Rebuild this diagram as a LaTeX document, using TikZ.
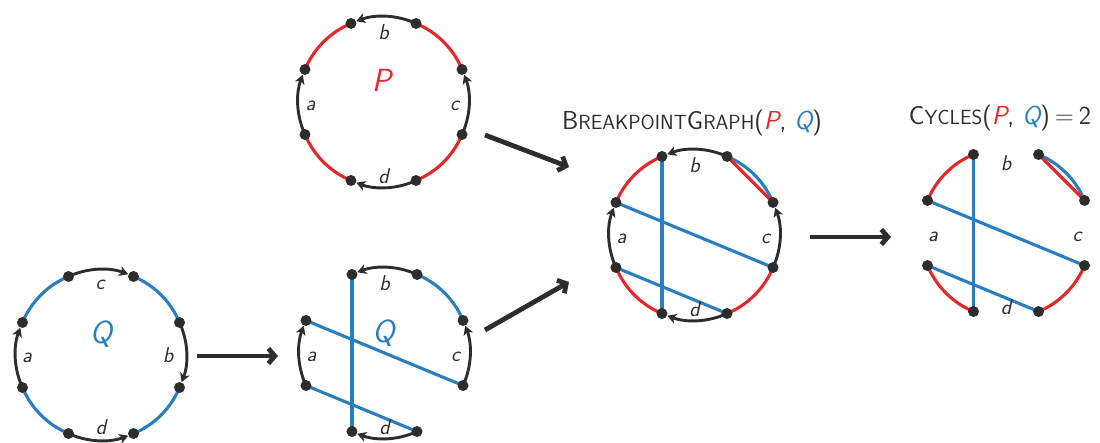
\documentclass[tikz,border=0pt]{standalone}
\usepackage{fontspec}
\usetikzlibrary{arrows.meta,calc}
\definecolor{pred}{RGB}{232,38,42}
\definecolor{qblue}{RGB}{41,125,193}
\definecolor{ink}{RGB}{45,45,45}
\pgfdeclarelayer{bg}
\pgfsetlayers{bg,main}
\newcommand\ringdots[2]{% prefix, centre coordinate name
  \foreach \k in {0,...,7}{\node[dot] (#1\k) at ($(#2)+({22.5+45*\k}:85)$) {};}}
\newcommand\ringlabels[1]{% centre coordinate name
  \node[lab] (#1-a) at ($(#1)+(-73,-4)$) {a};
  \node[lab] (#1-b) at ($(#1)+(0,70)$) {b};
  \node[lab] (#1-c) at ($(#1)+(71,-4)$) {c};
  \node[lab] (#1-d) at ($(#1)+(0,-74)$) {d};}
\newcommand\smc[1]{{\fontsize{20.5}{24}\selectfont #1}}
\begin{document}
\begin{tikzpicture}[x=1pt,y=1pt,
  dot/.style={circle,fill=ink,inner sep=0pt,minimum size=11pt},
  redarc/.style={pred,line width=3.1pt},
  bluearc/.style={qblue,line width=3.1pt},
  dirarc/.style={ink,line width=2.9pt,-{Stealth[length=9pt,width=10pt,inset=2.5pt]}},
  ccw/.style={bend right=22.5,looseness=0.88},
  cw/.style={bend left=22.5,looseness=0.88},
  lab/.style={font=\sffamily\itshape\fontsize{21.5}{21.5}\selectfont,text=ink,inner sep=0pt},
  big/.style={font=\sffamily\itshape\fontsize{32}{32}\selectfont,inner sep=0pt},
  bigarrow/.style={ink,line width=4.8pt,-{Straight Barb[length=6.5pt,width=15pt]}},
  title/.style={font=\sffamily\fontsize{26}{30}\selectfont,text=ink,anchor=base,inner sep=0pt}]
\useasboundingbox (0,0) rectangle (1100,442);

% centres
\coordinate (Pc) at (383.5,340);
\coordinate (Qc) at (101,87);
\coordinate (Rc) at (384.5,89);
\coordinate (Bc) at (694.5,207);
\coordinate (Cc) at (1006,209);

% ---------- P ----------
\ringdots{P}{Pc}
\ringlabels{Pc}
\node[big,text=pred] (Plab) at ($(Pc)+(-2,22)$) {P};
\begin{pgfonlayer}{bg}
  \draw[redarc] (P0.center) to[ccw] (P1.center);
  \draw[redarc] (P2.center) to[ccw] (P3.center);
  \draw[redarc] (P4.center) to[ccw] (P5.center);
  \draw[redarc] (P6.center) to[ccw] (P7.center);
  \draw[dirarc] (P1.center) to[ccw] (P2);
  \draw[dirarc] (P4.center) to[cw] (P3);
  \draw[dirarc] (P7.center) to[ccw] (P0);
  \draw[dirarc] (P6.center) to[cw] (P5);
\end{pgfonlayer}

% ---------- Q ----------
\ringdots{Q}{Qc}
\node[lab] (Qc-a) at ($(Qc)+(-74,-3)$) {a};
\node[lab] (Qc-c) at ($(Qc)+(-1,70)$) {c};
\node[lab] (Qc-b) at ($(Qc)+(67,0)$) {b};
\node[lab] (Qc-d) at ($(Qc)+(0,-72)$) {d};
\node[big,text=qblue] (Qlab) at ($(Qc)+(0,21)$) {Q};
\begin{pgfonlayer}{bg}
  \draw[bluearc] (Q0.center) to[ccw] (Q1.center);
  \draw[bluearc] (Q2.center) to[ccw] (Q3.center);
  \draw[bluearc] (Q4.center) to[ccw] (Q5.center);
  \draw[bluearc] (Q6.center) to[ccw] (Q7.center);
  \draw[dirarc] (Q2.center) to[cw] (Q1);
  \draw[dirarc] (Q0.center) to[cw] (Q7);
  \draw[dirarc] (Q4.center) to[cw] (Q3);
  \draw[dirarc] (Q5.center) to[ccw] (Q6);
\end{pgfonlayer}

% ---------- Q drawn on P's order ----------
\ringdots{R}{Rc}
\ringlabels{Rc}
\node[big,text=qblue] (Rlab) at ($(Rc)+(-1,20)$) {Q};
\begin{pgfonlayer}{bg}
  \draw[bluearc] (R0.center) to[ccw] (R1.center);
  \draw[bluearc] (R2.center) -- (R5.center);
  \draw[bluearc] (R3.center) -- (R7.center);
  \draw[bluearc] (R4.center) -- (R6.center);
  \draw[dirarc] (R1.center) to[ccw] (R2);
  \draw[dirarc] (R4.center) to[cw] (R3);
  \draw[dirarc] (R7.center) to[ccw] (R0);
  \draw[dirarc] (R6.center) to[cw] (R5);
\end{pgfonlayer}

% ---------- Breakpoint graph ----------
\ringdots{B}{Bc}
\ringlabels{Bc}
\node[title] (BGtitle) at (692,312) {B\smc{REAKPOINT}G\smc{RAPH}(\textcolor{pred}{\itshape P}, \textcolor{qblue}{\itshape Q})};
\begin{pgfonlayer}{bg}
  \draw[bluearc] (B0.center) to[ccw] (B1.center);
  \draw[redarc] (B0.center) -- (B1.center);
  \draw[redarc] (B2.center) to[ccw] (B3.center);
  \draw[redarc] (B4.center) to[ccw] (B5.center);
  \draw[redarc] (B6.center) to[ccw] (B7.center);
  \draw[bluearc] (B2.center) -- (B5.center);
  \draw[bluearc] (B3.center) -- (B7.center);
  \draw[bluearc] (B4.center) -- (B6.center);
  \draw[dirarc] (B1.center) to[ccw] (B2);
  \draw[dirarc] (B4.center) to[cw] (B3);
  \draw[dirarc] (B7.center) to[ccw] (B0);
  \draw[dirarc] (B6.center) to[cw] (B5);
\end{pgfonlayer}

% ---------- Cycles ----------
\ringdots{C}{Cc}
\ringlabels{Cc}
\node[title] (Ctitle) at (1000,317) {C\smc{YCLES}(\textcolor{pred}{\itshape P}, \textcolor{qblue}{\itshape Q})\hspace{5pt}=\hspace{5pt}2};
\begin{pgfonlayer}{bg}
  \draw[bluearc] (C0.center) to[ccw] (C1.center);
  \draw[redarc] (C0.center) -- (C1.center);
  \draw[redarc] (C2.center) to[ccw] (C3.center);
  \draw[redarc] (C4.center) to[ccw] (C5.center);
  \draw[redarc] (C6.center) to[ccw] (C7.center);
  \draw[bluearc] (C2.center) -- (C5.center);
  \draw[bluearc] (C3.center) -- (C7.center);
  \draw[bluearc] (C4.center) -- (C6.center);
\end{pgfonlayer}

% ---------- big arrows ----------
\coordinate (a1s) at (485,307); \coordinate (a1e) at (569,275);
\coordinate (a2s) at (485,112); \coordinate (a2e) at (569,160);
\coordinate (a3s) at (197,86);  \coordinate (a3e) at (278,86);
\coordinate (a4s) at (810,205); \coordinate (a4e) at (891,205);
\draw[bigarrow] (a1s) -- (a1e);
\draw[bigarrow] (a2s) -- (a2e);
\draw[bigarrow] (a3s) -- (a3e);
\draw[bigarrow] (a4s) -- (a4e);
\end{tikzpicture}
\end{document}
